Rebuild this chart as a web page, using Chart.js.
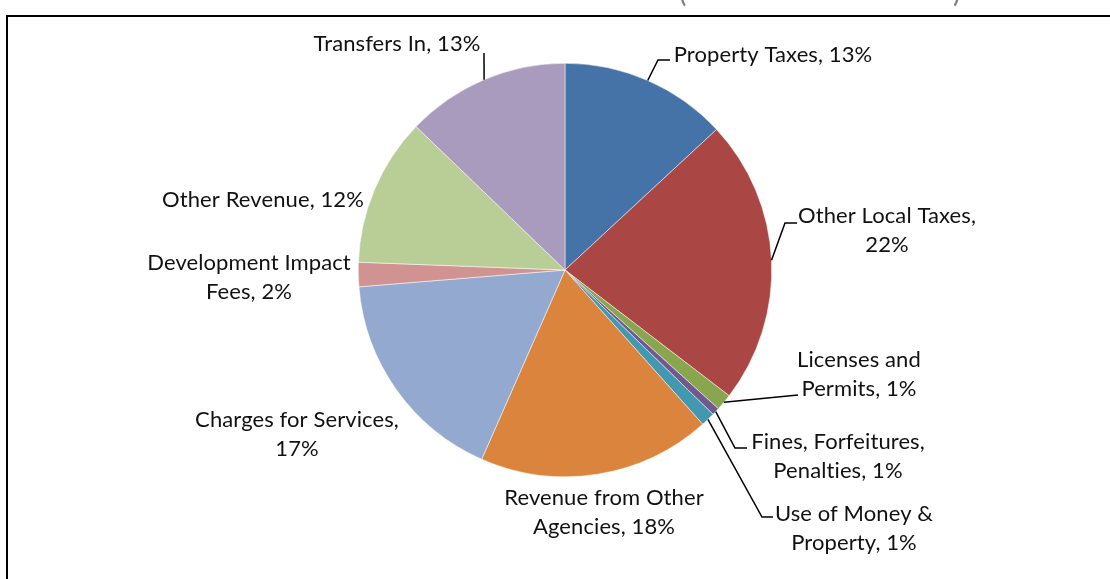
<!DOCTYPE html>
<html>
<head>
<meta charset="utf-8">
<script src="https://cdn.jsdelivr.net/npm/chart.js@4.4.1/dist/chart.umd.min.js"></script>
<style>
  body { margin: 0; background: #fff; }
  #wrap { width: 1110px; height: 579px; position: relative; }
</style>
</head>
<body>
<div id="wrap"><canvas id="revenueChart"></canvas></div>
<script>
// slice data (percent of total revenue), clockwise from 12 o'clock
const categories = ['Property Taxes', 'Other Local Taxes', 'Licenses and Permits', 'Fines, Forfeitures, Penalties',
  'Use of Money & Property', 'Revenue from Other Agencies', 'Charges for Services', 'Development Impact Fees',
  'Other Revenue', 'Transfers In'];
const shares = [13.1, 22.3, 1.3, 0.6, 1.1, 18.2, 17.1, 1.9, 11.6, 12.8];
const colors = ['#4572A7', '#AA4643', '#89A54E', '#71588F', '#4198AF', '#DB843D', '#93A9CF', '#D19392', '#B9CD96', '#A99BBD'];

// label placement: words on first line, centre x, first baseline, leader points after the slice edge
const labelLayout = [
  { firstLine: 0, x: 773, y: 62, leader: [[658, 60], [670, 60]] },
  { firstLine: 3, x: 887, y: 223, leader: [[785, 223], [797, 223]] },
  { firstLine: 2, x: 859, y: 367, leader: [[798, 395]] },
  { firstLine: 2, x: 838, y: 449, leader: [[735, 448], [747, 448]] },
  { firstLine: 4, x: 854, y: 521, leader: [[762, 517], [773, 517]] },
  { firstLine: 3, x: 604, y: 505 },
  { firstLine: 3, x: 297, y: 427 },
  { firstLine: 2, x: 249, y: 270 },
  { firstLine: 0, x: 263, y: 207 },
  { firstLine: 0, x: 397, y: 51, leader: [[484, 53]] }
];
const LINE_H = 29;
const FONT = '22px Lato';

const frame = {
  id: 'frame',
  beforeDraw(chart) {
    const c = chart.ctx;
    c.save();
    c.fillStyle = '#fff';
    c.fillRect(0, 0, chart.width, chart.height);
    c.strokeStyle = '#000';
    c.lineWidth = 2;
    c.strokeRect(7, 16, chart.width + 20, chart.height + 20);
    // bottom of the clipped title brackets
    c.fillStyle = '#7f7f7f';
    c.font = '28px Lato';
    c.textBaseline = 'alphabetic';
    c.fillText('(', 679, 2);
    c.fillText(')', 953, 2);
    c.restore();
  }
};

const sliceLabels = {
  id: 'sliceLabels',
  afterDraw(chart) {
    const c = chart.ctx;
    const arcs = chart.getDatasetMeta(0).data;
    c.save();
    c.font = FONT;
    c.letterSpacing = '0.1px'; // keeps Lato from joining "ti"
    c.fillStyle = '#111';
    c.textAlign = 'center';
    c.textBaseline = 'alphabetic';
    arcs.forEach((arc, i) => {
      const lay = labelLayout[i];
      const text = categories[i] + ', ' + Math.round(shares[i]) + '%';
      const words = text.split(' ');
      const lines = lay.firstLine ? [words.slice(0, lay.firstLine).join(' '), words.slice(lay.firstLine).join(' ')] : [text];
      lines.forEach((ln, k) => c.fillText(ln, lay.x, lay.y + k * LINE_H));
      if (lay.leader) {
        const p = arc.getProps(['x', 'y', 'startAngle', 'endAngle', 'outerRadius'], true);
        const mid = (p.startAngle + p.endAngle) / 2;
        c.beginPath();
        c.moveTo(p.x + Math.cos(mid) * p.outerRadius, p.y + Math.sin(mid) * p.outerRadius);
        lay.leader.forEach(pt => c.lineTo(pt[0], pt[1]));
        c.strokeStyle = '#000';
        c.lineWidth = 1.5;
        c.stroke();
      }
    });
    c.restore();
  }
};

new Chart(document.getElementById('revenueChart'), {
  type: 'pie',
  data: {
    labels: categories,
    datasets: [{
      data: shares,
      backgroundColor: colors,
      borderColor: '#ffffff',
      borderWidth: 0.5
    }]
  },
  options: {
    responsive: true,
    maintainAspectRatio: false,
    animation: false,
    layout: { padding: { left: 358, right: 338, top: 63, bottom: 102 } },
    plugins: {
      legend: { display: false },
      tooltip: { enabled: false }
    }
  },
  plugins: [frame, sliceLabels]
});
</script>
</body>
</html>
